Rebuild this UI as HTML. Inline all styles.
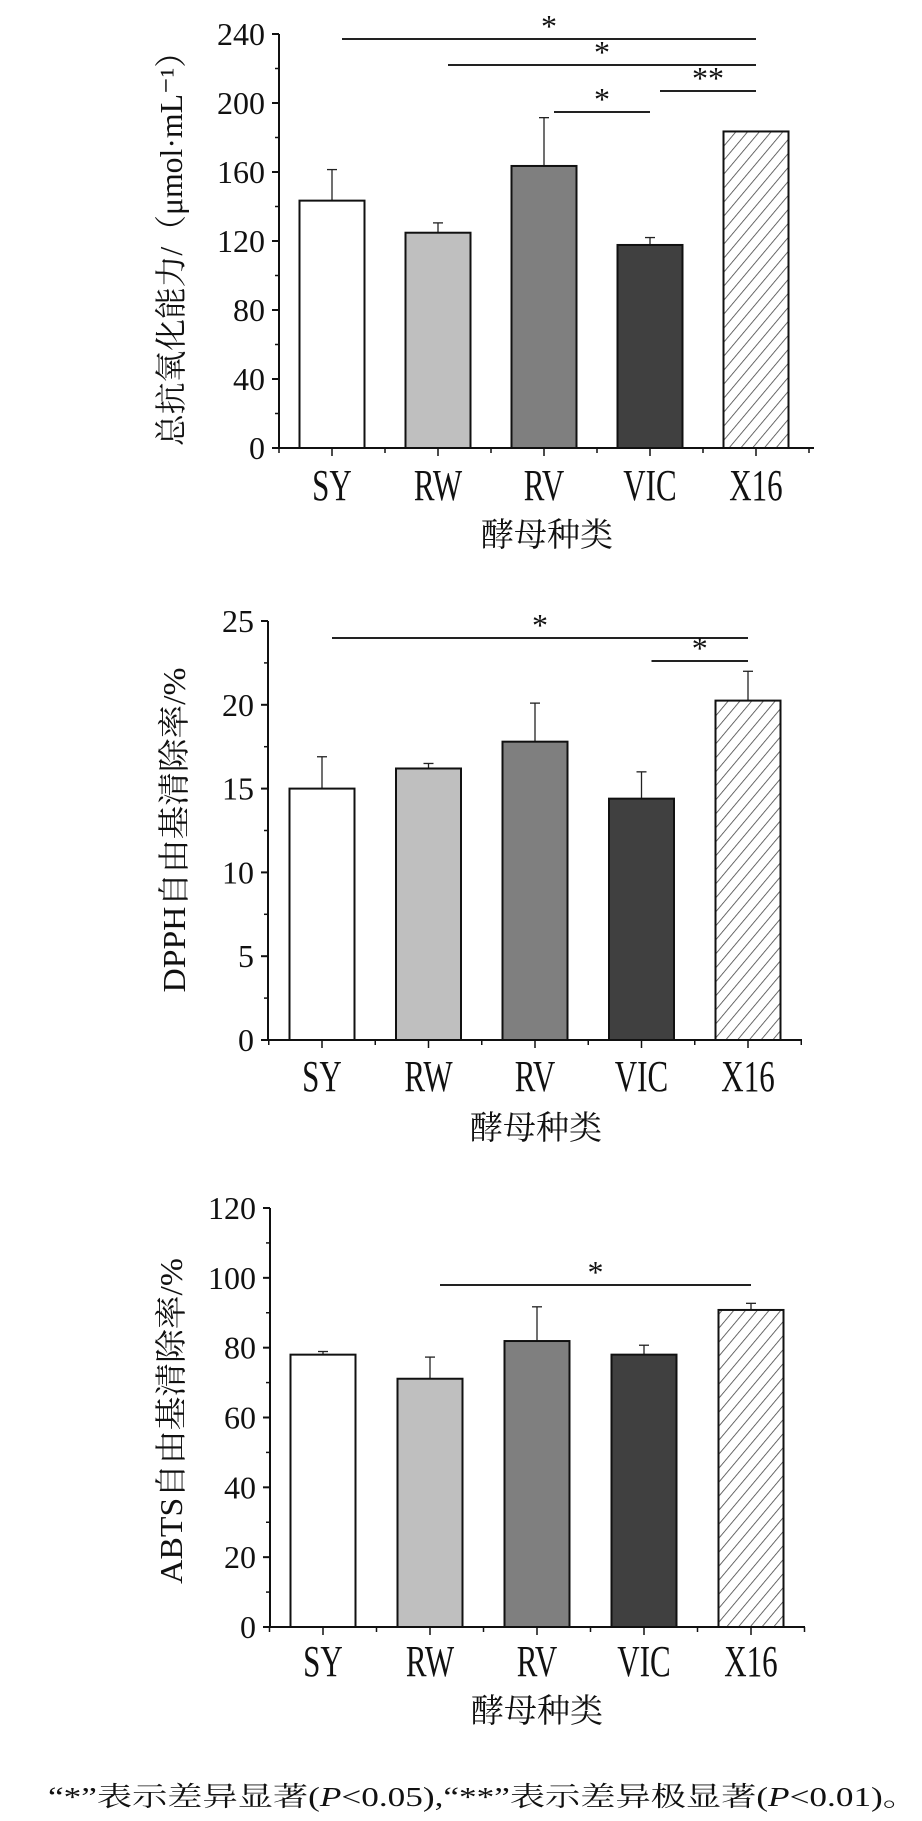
<!DOCTYPE html>
<html><head><meta charset="utf-8"><style>
body{margin:0;background:#fff}
svg{display:block}
text{font-family:"Liberation Serif","Noto Serif CJK SC",serif;fill:#111}
</style></head><body>
<svg id="fig" width="922" height="1821" viewBox="0 0 922 1821" xmlns="http://www.w3.org/2000/svg">
<defs>
<pattern id="hatch" patternUnits="userSpaceOnUse" width="9" height="9" patternTransform="rotate(40)">
<rect width="9" height="9" fill="#fff"/><line x1="0" y1="0" x2="0" y2="9" stroke="#444" stroke-width="1.6"/>
</pattern>
</defs>
<text x="48" y="1806" font-size="27" textLength="870" lengthAdjust="spacingAndGlyphs">“*”表示差异显著(<tspan font-style="italic">P</tspan>&lt;0.05),“**”表示差异极显著(<tspan font-style="italic">P</tspan>&lt;0.01)。</text>
</svg>
<script>
const categories = ["SY","RW","RV","VIC","X16"];
const taoValues = [143.4,124.8,163.5,117.7,183.5];
const taoErrors = [18,5.7,28,4.3,0];
const taoTicks = [0,40,80,120,160,200,240];
const dpphValues = [15.0,16.2,17.8,14.4,20.25];
const dpphErrors = [1.9,0.3,2.3,1.6,1.75];
const dpphTicks = [0,5,10,15,20,25];
const abtsValues = [78,71.1,81.9,78,90.8];
const abtsErrors = [0.9,6.2,9.8,2.7,1.9];
const abtsTicks = [0,20,40,60,80,100,120];
const taoSig = [[0,4,"*",0],[1,4,"*",1],[3,4,"**",2],[2,3,"*",3]];
const dpphSig = [[0,4,"*",0],[3,4,"*",1]];
const abtsSig = [[1,4,"*",0]];

const fills = ["#ffffff","#bfbfbf","#7f7f7f","#404040","url(#hatch)"];
const NS = "http://www.w3.org/2000/svg";
const svg = document.getElementById('fig');
function mk(tag, attrs, parent){const e=document.createElementNS(NS,tag);for(const k in attrs)e.setAttribute(k,attrs[k]);(parent||svg).appendChild(e);return e;}

function chart(cfg){
  const g = mk('g',{});
  
  
  const max = cfg.ticks[cfg.ticks.length-1];
  const y = v => cfg.y0 - (v/max)*(cfg.y0-cfg.yTop);
  const x = i => cfg.x1 + i*cfg.step;
  cfg.values.forEach((v,i)=>{
    const e = cfg.errors[i];
    if(e>0){
      const el = mk('line',{x1:x(i),x2:x(i),y1:y(v),y2:y(v+e),stroke:'#222','stroke-width':1.3},g);
      
      
      mk('line',{x1:x(i)-5,x2:x(i)+5,y1:y(v+e),y2:y(v+e),stroke:'#222','stroke-width':1.3},g);
    }
    const r = mk('rect',{x:x(i)-32.5,y:y(v),width:65,height:cfg.y0-y(v),fill:fills[i],stroke:'#111','stroke-width':2},g);
    
    
    const t = mk('text',{x:x(i),y:cfg.labelY,'font-size':31,'text-anchor':'middle',transform:`translate(0 ${cfg.labelY}) scale(1 1.45) translate(0 ${-cfg.labelY})`},g);
    t.textContent = categories[i];
    
    
  });
  const ya = mk('line',{x1:cfg.ax,x2:cfg.ax,y1:cfg.yTop,y2:cfg.y0,stroke:'#111','stroke-width':2},g);
  
  
  const xa = mk('line',{x1:cfg.ax-6,x2:cfg.axEnd,y1:cfg.y0,y2:cfg.y0,stroke:'#111','stroke-width':2},g);
  
  
  cfg.ticks.forEach((t,k)=>{
    mk('line',{x1:cfg.ax-7,x2:cfg.ax,y1:y(t),y2:y(t),stroke:'#111','stroke-width':2},g);
    if(k<cfg.ticks.length-1){const m=(t+cfg.ticks[k+1])/2;mk('line',{x1:cfg.ax-4,x2:cfg.ax,y1:y(m),y2:y(m),stroke:'#111','stroke-width':1.5},g);}
    const tl = mk('text',{x:cfg.ax-14,y:y(t)+11,'font-size':32,'text-anchor':'end'},g);
    tl.textContent = t;
    
    
  });
  for(let i=0;i<categories.length;i++){
    mk('line',{x1:x(i),x2:x(i),y1:cfg.y0,y2:cfg.y0+8,stroke:'#111','stroke-width':1.5},g);
    mk('line',{x1:x(i)+cfg.step/2,x2:x(i)+cfg.step/2,y1:cfg.y0,y2:cfg.y0+5,stroke:'#111','stroke-width':1.5},g);
  }
  mk('line',{x1:x(0)-cfg.step/2,x2:x(0)-cfg.step/2,y1:cfg.y0,y2:cfg.y0+5,stroke:'#111','stroke-width':1.5},g);
  cfg.sig.forEach(s=>{
    const ly = cfg.sigY[s[3]];
    const l = mk('line',{x1:x(s[0])+10,x2:x(s[1]),y1:ly,y2:ly,stroke:'#222','stroke-width':2},g);
    
    
    const st = mk('text',{x:(x(s[0])+10+x(s[1]))/2,y:ly-2,'font-size':32,'text-anchor':'middle'},g);
    st.textContent = s[2];
    
    
  });
  const xt = mk('text',{x:cfg.xTitleX,y:cfg.xTitleY,'font-size':33,'text-anchor':'middle'},g);
  xt.textContent = '酵母种类';
  
  
  const yt = mk('text',{x:0,y:0,'font-size':32,'text-anchor':'middle',transform:`translate(${cfg.yTitleX} ${cfg.yTitleY}) rotate(-90)`,textLength:cfg.yTitleLen,lengthAdjust:'spacingAndGlyphs'},g);
  yt.textContent = cfg.yTitle;
  
  
}

chart({name:'tao-chart',values:taoValues,errors:taoErrors,ticks:taoTicks,sig:taoSig,
  ax:279,axEnd:814,y0:448,yTop:34,x1:332,step:106,labelY:500,
  sigY:[39,65,91,112],xTitleX:547,xTitleY:546,yTitleX:182,yTitleY:241,yTitleLen:410,
  yTitle:'总抗氧化能力/（μmol·mL⁻¹）'});
chart({name:'dpph-chart',values:dpphValues,errors:dpphErrors,ticks:dpphTicks,sig:dpphSig,
  ax:268,axEnd:802,y0:1040,yTop:621,x1:322,step:106.5,labelY:1091,
  sigY:[638,661],xTitleX:536,xTitleY:1139,yTitleX:185,yTitleY:830,yTitleLen:325,
  yTitle:'DPPH自由基清除率/%'});
chart({name:'abts-chart',values:abtsValues,errors:abtsErrors,ticks:abtsTicks,sig:abtsSig,
  ax:270,axEnd:805,y0:1627,yTop:1208,x1:323,step:107,labelY:1676,
  sigY:[1285],xTitleX:537,xTitleY:1722,yTitleX:182,yTitleY:1421,yTitleLen:326,
  yTitle:'ABTS自由基清除率/%'});
</script>
</body></html>
